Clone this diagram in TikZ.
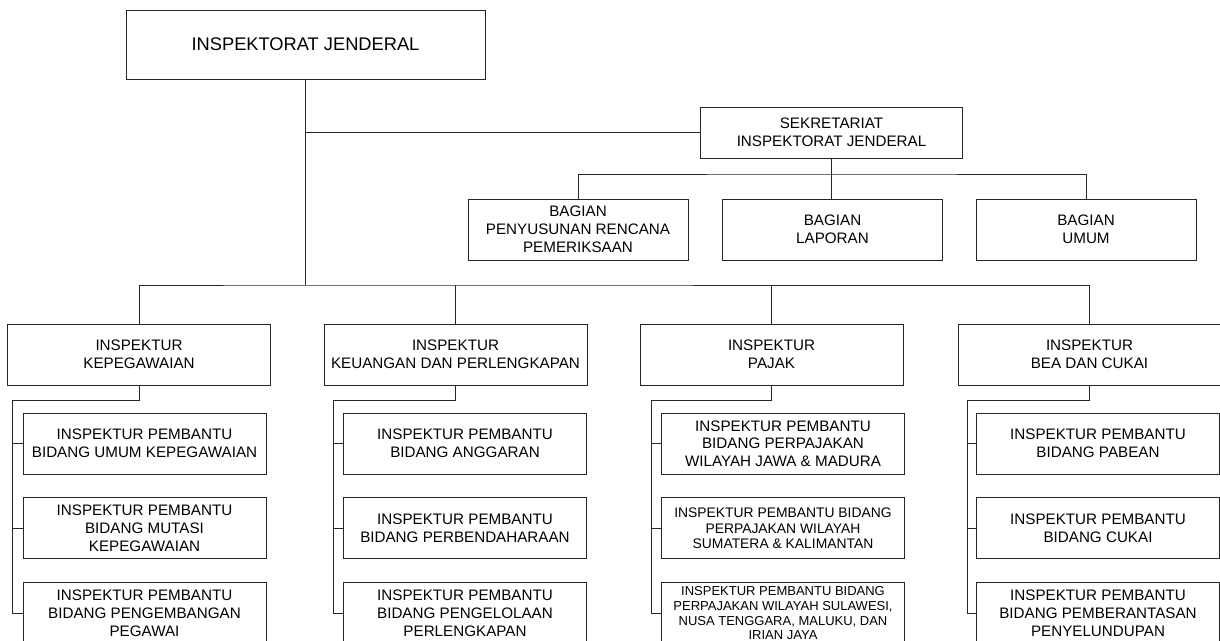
\documentclass[tikz,border=0pt]{standalone}
\usepackage{fontspec}
\setmainfont{Liberation Sans}
\usetikzlibrary{positioning}

\begin{document}
\begin{tikzpicture}[
  x=0.75pt, y=-0.75pt,
  node distance=17.25pt,
  box/.style={rectangle, draw=black!85, line width=0.7pt, align=center, inner sep=1pt, minimum height=45.75pt, font=\fontsize{11.4}{13.3}\selectfont},
  headbox/.style={box, minimum width=269.25pt, minimum height=51.75pt, font=\fontsize{13.7}{16}\selectfont},
  sekbox/.style={box, minimum width=196.5pt, minimum height=38.25pt},
  bagbox/.style={box, minimum width=165pt},
  colbox/.style={box, minimum width=197.25pt},
  subbox/.style={box, minimum width=182.25pt},
  smallfont/.style={font=\fontsize{10.4}{11.5}\selectfont},
  tinyfont/.style={font=\fontsize{9.75}{11}\selectfont},
  link/.style={draw=black!85, line width=0.7pt},
  trunk/.style={link, line width=1.2pt}
]

\clip (0,0) rectangle (1220,641);

% Top level
\node[headbox] (ij) at (305.5,44.5) {INSPEKTORAT JENDERAL};
\node[sekbox] (sek) at (831.5,132.5) {SEKRETARIAT\\INSPEKTORAT JENDERAL};

% Bagian
\node[bagbox] (bag1) at (578,229.5) {BAGIAN\\PENYUSUNAN RENCANA\\PEMERIKSAAN};
\node[bagbox] (bag2) at (832.5,229.5) {BAGIAN\\LAPORAN};
\node[bagbox] (bag3) at (1086,229.5) {BAGIAN\\UMUM};

% Inspektur
\node[colbox] (kep) at (139,354.5) {INSPEKTUR\\KEPEGAWAIAN};
\node[colbox] (keu) at (455.5,354.5) {INSPEKTUR\\KEUANGAN DAN PERLENGKAPAN};
\node[colbox] (paj) at (771.5,354.5) {INSPEKTUR\\PAJAK};
\node[colbox] (bea) at (1089.5,354.5) {INSPEKTUR\\BEA DAN CUKAI};

% Inspektur pembantu
\node[subbox] (kep1) at (144.5,443.5) {INSPEKTUR PEMBANTU\\BIDANG UMUM KEPEGAWAIAN};
\node[subbox, below=of kep1] (kep2) {INSPEKTUR PEMBANTU\\BIDANG MUTASI\\KEPEGAWAIAN};
\node[subbox, below=of kep2] (kep3) {INSPEKTUR PEMBANTU\\BIDANG PENGEMBANGAN\\PEGAWAI};

\node[subbox] (keu1) at (465,443.5) {INSPEKTUR PEMBANTU\\BIDANG ANGGARAN};
\node[subbox, below=of keu1] (keu2) {INSPEKTUR PEMBANTU\\BIDANG PERBENDAHARAAN};
\node[subbox, below=of keu2] (keu3) {INSPEKTUR PEMBANTU\\BIDANG PENGELOLAAN\\PERLENGKAPAN};

\node[subbox] (paj1) at (783,443.5) {INSPEKTUR PEMBANTU\\BIDANG PERPAJAKAN\\WILAYAH JAWA \& MADURA};
\node[subbox, smallfont, below=of paj1] (paj2) {INSPEKTUR PEMBANTU BIDANG\\PERPAJAKAN WILAYAH\\SUMATERA \& KALIMANTAN};
\node[subbox, tinyfont, below=of paj2] (paj3) {INSPEKTUR PEMBANTU BIDANG\\PERPAJAKAN WILAYAH SULAWESI,\\NUSA TENGGARA, MALUKU, DAN\\IRIAN JAYA};

\node[subbox] (bea1) at (1098,443.5) {INSPEKTUR PEMBANTU\\BIDANG PABEAN};
\node[subbox, below=of bea1] (bea2) {INSPEKTUR PEMBANTU\\BIDANG CUKAI};
\node[subbox, below=of bea2] (bea3) {INSPEKTUR PEMBANTU\\BIDANG PEMBERANTASAN\\PENYELUNDUPAN};

% Lines
\coordinate (bus) at (305.5,285);
\coordinate (sekbus) at (831.5,174);
\draw[trunk] (ij.south) -- (bus);
\draw[link] (ij.south |- sek.west) -- (sek.west);
\draw[link] (sek.south) -- (sek.south |- bag2.north);
\draw[link] (bag1.north) |- (sekbus) -| (bag3.north);
\draw[link] (kep.north) |- (bus) -| (bea.north);
\draw[link] (keu.north) -- (keu.north |- bus);
\draw[link] (paj.north) -- (paj.north |- bus);

\foreach \c/\r in {kep/12.5, keu/333, paj/651, bea/967} {
  \coordinate (rail) at (\r,400);
  \draw[link] (\c.south) |- (rail) |- (\c3.west);
  \draw[link] (rail |- \c1.west) -- (\c1.west);
  \draw[link] (rail |- \c2.west) -- (\c2.west);
}

\end{tikzpicture}
\end{document}
